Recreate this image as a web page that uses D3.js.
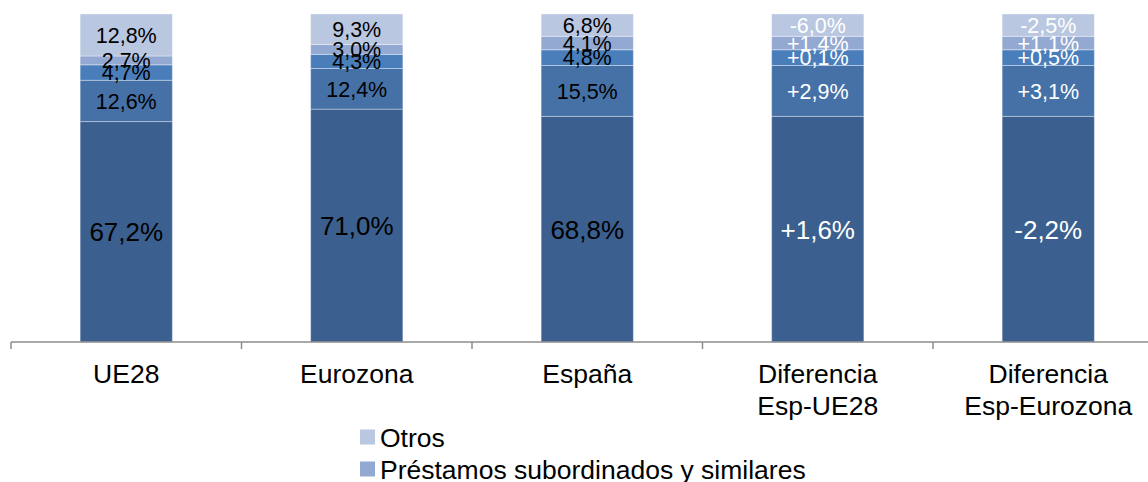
<!DOCTYPE html>
<html>
<head>
<meta charset="utf-8">
<script src="https://cdn.jsdelivr.net/npm/d3@7"></script>
<style>
  body { margin: 0; background: #fff; }
  svg { display: block; font-family: "Liberation Sans", Arial, sans-serif; }
</style>
</head>
<body>
<svg id="chart" width="1148" height="482"></svg>
<script>
// Categories on the x axis.
const categories = ["UE28", "Eurozona", "España", "Diferencia Esp-UE28", "Diferencia Esp-Eurozona"];
const categoryLines = [["UE28"], ["Eurozona"], ["España"], ["Diferencia", "Esp-UE28"], ["Diferencia", "Esp-Eurozona"]];

// Series, bottom to top.
const seriesNames = ["Depósitos", "Valores representativos de deuda", "Derivados", "Préstamos subordinados y similares", "Otros"];

// Shares (%) for UE28, Eurozona, España.
const depositos = [67.2, 71.0, 68.8];
const valores = [12.6, 12.4, 15.5];
const derivados = [4.7, 4.3, 4.8];
const subordinados = [2.7, 3.0, 4.1];
const otros = [12.8, 9.3, 6.8];

// Differences (points), same series order.
const difEspUE28 = [1.6, 2.9, 0.1, 1.4, -6.0];
const difEspEurozona = [-2.2, 3.1, 0.5, 1.1, -2.5];

(function () {
  const colors = ["#3b5f8e", "#4571a7", "#4a7ebb", "#93a9d1", "#bac7e1"];
  const svg = d3.select("#chart");
  const baseY = 342, topY = 14, left = 11, step = 230.5;

  const shares = [depositos, valores, derivados, subordinados, otros];
  // Build one row per category; the difference bars reuse the España composition.
  const rows = categories.map((c, i) => {
    const src = i < 3 ? i : 2;
    const row = { cat: c, labels: [] };
    seriesNames.forEach((s, k) => {
      row[s] = shares[k][src];
      if (i < 3) row.labels.push(d3.format(".1f")(shares[k][i]).replace(".", ",") + "%");
      else {
        const d = (i === 3 ? difEspUE28 : difEspEurozona)[k];
        row.labels.push((d >= 0 ? "+" : "-") + d3.format(".1f")(Math.abs(d)).replace(".", ",") + "%");
      }
    });
    row.white = i >= 3;
    return row;
  });

  const x = d3.scaleBand().domain(categories)
    .range([left, left + step * categories.length])
    .paddingInner(0.6).paddingOuter(0.3);
  const y = d3.scaleLinear().domain([0, 100]).range([baseY, topY]);

  const stacked = d3.stack().keys(seriesNames)(rows);

  const layer = svg.selectAll("g.layer").data(stacked).enter().append("g")
    .attr("class", "layer")
    .attr("fill", (d, i) => colors[i]);

  layer.selectAll("rect").data((d) => d).enter().append("rect")
    .attr("x", (d) => x(d.data.cat))
    .attr("width", x.bandwidth())
    .attr("y", (d) => y(d[1]))
    .attr("height", (d) => y(d[0]) - y(d[1]))
    .attr("stroke", "rgba(255,255,255,0.35)")
    .attr("stroke-width", 1);

  // Data labels.
  stacked.forEach((ser, k) => {
    svg.append("g").selectAll("text").data(ser).enter().append("text")
      .attr("x", (d) => x(d.data.cat) + x.bandwidth() / 2)
      .attr("y", (d) => (y(d[0]) + y(d[1])) / 2)
      .attr("dy", "0.36em")
      .attr("text-anchor", "middle")
      .attr("font-size", k === 0 ? "26px" : "21.5px")
      .attr("fill", (d) => (d.data.white ? "#fff" : "#000"))
      .text((d) => d.data.labels[k]);
  });

  // Category axis with ticks between categories.
  const axis = svg.append("g").attr("stroke", "#8c8c8c").attr("stroke-width", 1.5);
  axis.append("line").attr("x1", left).attr("x2", 1148).attr("y1", baseY).attr("y2", baseY);
  d3.range(categories.length + 1).forEach((i) => {
    axis.append("line")
      .attr("x1", left + i * x.step()).attr("x2", left + i * x.step())
      .attr("y1", baseY).attr("y2", baseY + 7);
  });

  const lab = svg.append("g").selectAll("text").data(categories).enter().append("text")
    .attr("x", (d) => x(d) + x.bandwidth() / 2)
    .attr("y", 374)
    .attr("text-anchor", "middle")
    .attr("font-size", "26.5px")
    .attr("fill", "#000");
  lab.selectAll("tspan").data((d, i) => categoryLines[i]).enter().append("tspan")
    .attr("x", function () { return this.parentNode.getAttribute("x"); })
    .attr("dy", (d, j) => (j === 0 ? "0.35em" : "32px"))
    .text((d) => d);

  // Legend, top series first.
  const legend = svg.append("g").selectAll("g").data(seriesNames.slice().reverse()).enter().append("g")
    .attr("transform", (d, i) => `translate(360,${437 + i * 32})`);
  legend.append("rect")
    .attr("x", 0).attr("y", -7.5).attr("width", 15).attr("height", 15)
    .attr("fill", (d, i) => colors[colors.length - 1 - i]);
  legend.append("text")
    .attr("x", 20).attr("dy", "0.36em")
    .attr("font-size", "26.5px")
    .text((d) => d);
})();
</script>
</body>
</html>
